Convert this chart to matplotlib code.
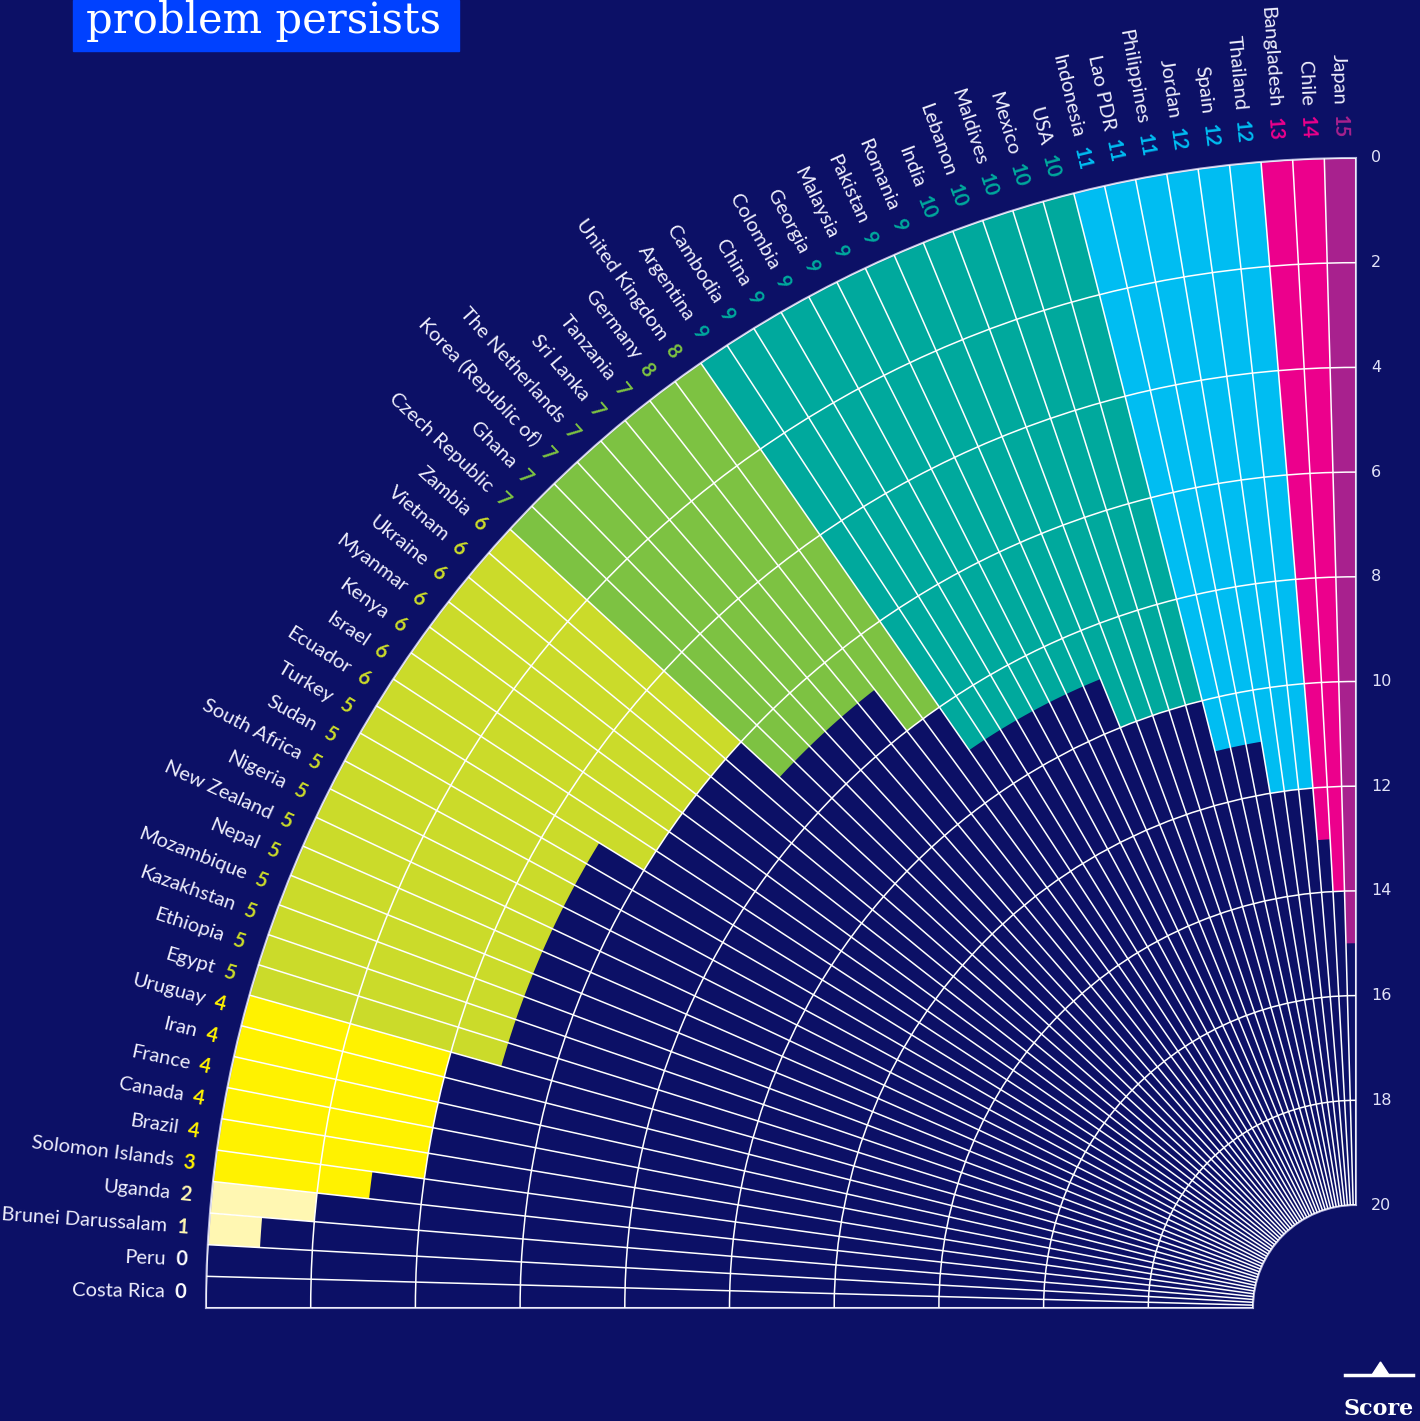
import matplotlib
matplotlib.use('Agg')
import matplotlib.pyplot as plt
import matplotlib.transforms as mtransforms
from matplotlib.patches import Rectangle, Polygon
from matplotlib.lines import Line2D
import numpy as np

# data (top = Japan, going anticlockwise to Costa Rica)
countries = ['Japan', 'Chile', 'Bangladesh', 'Thailand', 'Spain', 'Jordan',
             'Philippines', 'Lao PDR', 'Indonesia', 'USA', 'Mexico', 'Maldives',
             'Lebanon', 'India', 'Romania', 'Pakistan', 'Malaysia', 'Georgia',
             'Colombia', 'China', 'Cambodia', 'Argentina', 'United Kingdom',
             'Germany', 'Tanzania', 'Sri Lanka', 'The Netherlands',
             'Korea (Republic of)', 'Ghana', 'Czech Republic', 'Zambia',
             'Vietnam', 'Ukraine', 'Myanmar', 'Kenya', 'Israel', 'Ecuador',
             'Turkey', 'Sudan', 'South Africa', 'Nigeria', 'New Zealand', 'Nepal',
             'Mozambique', 'Kazakhstan', 'Ethiopia', 'Egypt', 'Uruguay', 'Iran',
             'France', 'Canada', 'Brazil', 'Solomon Islands', 'Uganda',
             'Brunei Darussalam', 'Peru', 'Costa Rica']
scores = [15, 14, 13, 12, 12, 12, 11, 11, 11, 10, 10, 10, 10, 10,
          9, 9, 9, 9, 9, 9, 9, 9, 8, 8, 7, 7, 7, 7, 7, 7,
          6, 6, 6, 6, 6, 6, 6, 5, 5, 5, 5, 5, 5, 5, 5, 5, 5,
          4, 4, 4, 4, 4, 3, 2, 1, 0, 0]
score_ticks = list(range(0, 21, 2))

# colour per score value (0..15)
score_colors = ['#ffffff', '#fff7b2', '#fff7b2', '#fff200', '#fff200',
                '#cbdb2a', '#cbdb2a', '#7dc242', '#7dc242', '#00a99d',
                '#00a99d', '#00bdf2', '#00bdf2', '#ec008c', '#ec008c', '#a8218e']

BG = '#0c1066'
W, H = 1420, 1421
cx, cy, R, R_in = 1356, 1308, 1150, 103
name_font = ['Lato', 'DejaVu Sans']

fig = plt.figure(figsize=(W / 100, H / 100), dpi=100, facecolor=BG)
ax = fig.add_axes([(cx - R) / W, (H - cy) / H, R / W, R / H], projection='polar')
ax.set_facecolor(BG)
ax.set_theta_zero_location('N')
ax.set_theta_direction(1)
ax.set_thetamin(0)
ax.set_thetamax(90)
ax.set_ylim(20, 0)
ax.set_rorigin(20 / (1 - R_in / R))

n = len(countries)
step = np.pi / 2 / n
theta = (np.arange(n) + 0.5) * step
bar_colors = [score_colors[s] for s in scores]
ax.bar(theta, scores, width=step, bottom=0, color=bar_colors,
       edgecolor='none', linewidth=0, zorder=1)

# grid
ax.set_xticks(np.arange(n + 1) * step)
ax.set_xticklabels([])
ax.set_yticks(score_ticks)
ax.set_yticklabels([str(t) for t in score_ticks])
ax.grid(True, color='white', linewidth=1.1)
ax.set_axisbelow(False)
ax.tick_params(axis='x', length=0)
ax.tick_params(axis='y', length=0, labelsize=11.5, labelcolor='#e2e2f8', pad=11)
for lab in ax.get_yticklabels():
    lab.set_family(name_font)
for sp in ax.spines.values():
    sp.set_color('#b4b4dc')
    sp.set_linewidth(1.5)

# country labels with scores
renderer = fig.canvas.get_renderer()
gap = 20 / ((R - R_in) / 20)   # 20 px outside the outer edge, in score units
fs = 14.5
for th, name, s in zip(theta, countries, scores):
    deg = np.degrees(th)
    rot = deg - 90
    phi = np.radians(90 + deg)
    col = score_colors[s]
    ax.text(th, -gap, str(s), rotation=rot, rotation_mode='anchor',
            ha='right', va='center', fontsize=fs, fontweight='bold',
            color=col, family=name_font, clip_on=False)
    tmp = fig.text(0, 0, str(s), fontsize=fs, fontweight='bold', family=name_font)
    wnum = tmp.get_window_extent(renderer).width
    tmp.remove()
    d = wnum + 10
    tr = mtransforms.offset_copy(ax.transData, fig=fig,
                                 x=d * np.cos(phi), y=d * np.sin(phi), units='dots')
    ax.text(th, -gap, name, rotation=rot, rotation_mode='anchor', transform=tr,
            ha='right', va='center', fontsize=fs, fontweight='normal',
            color='#eeeefc', family=name_font, clip_on=False)

# title box, cut off at the top
fig.patches.append(Rectangle((73 / W, 1 - 51 / H), (459 - 73) / W, 51 / H,
                             transform=fig.transFigure, color='#0041ff', zorder=0))
fig.text(86 / W, 1 - 33 / H, 'problem persists', va='baseline', ha='left',
         fontsize=30, family='DejaVu Serif', color='white')

# score key, bottom right
fig.lines.append(Line2D([1345 / W, 1413 / W], [1 - 1375 / H, 1 - 1375 / H],
                        transform=fig.transFigure, color='white', linewidth=2.5))
fig.patches.append(Polygon([[1372 / W, 1 - 1375 / H], [1389 / W, 1 - 1375 / H],
                            [1380.5 / W, 1 - 1362 / H]], closed=True,
                           transform=fig.transFigure, color='white'))
fig.text(1379 / W, 1 - 1415 / H, 'Score', ha='center', va='baseline',
         fontsize=16, fontweight='bold', family='DejaVu Serif', color='white')

fig.savefig('out.png', dpi=100, facecolor=BG)
